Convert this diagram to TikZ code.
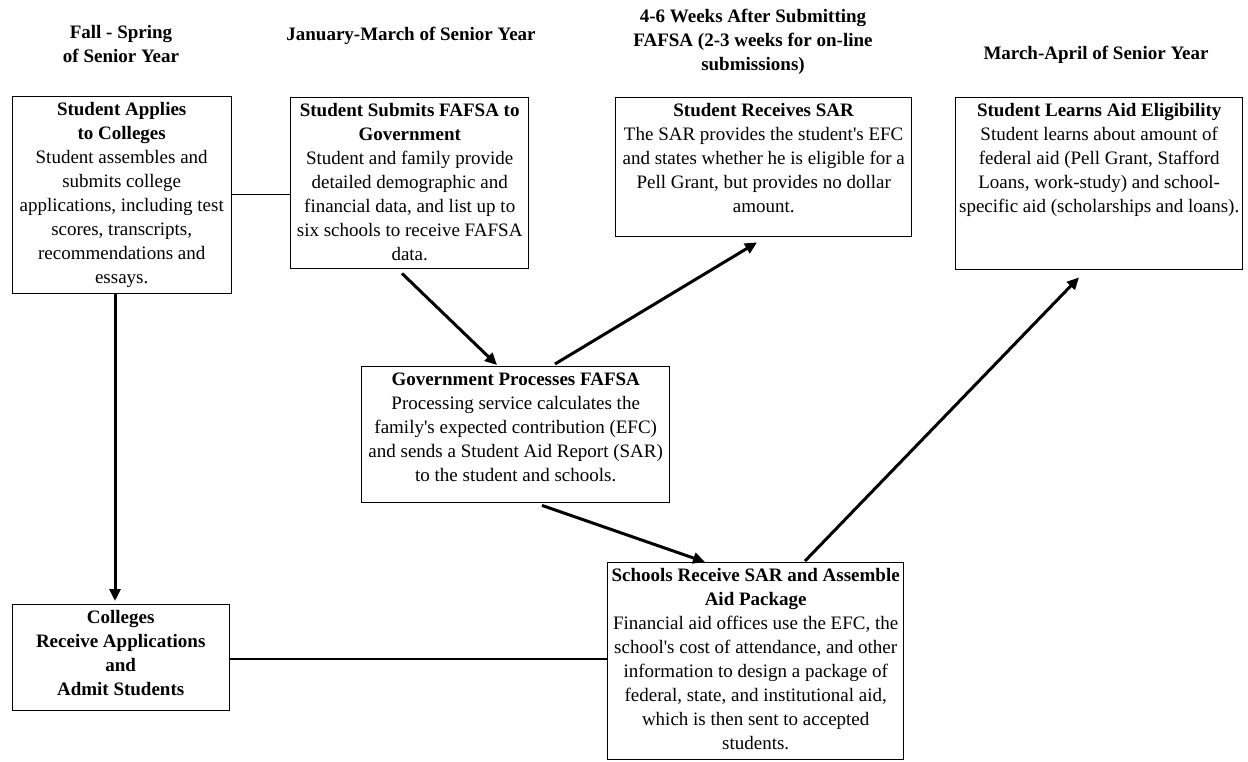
\documentclass[tikz,border=0pt]{standalone}
\usepackage{fontspec}
\setmainfont{Liberation Serif}
\usetikzlibrary{arrows.meta,calc}
\newcommand{\apos}{\textquotesingle}
\begin{document}
\begin{tikzpicture}[x=1pt,y=-1pt,
  every node/.style={font=\fontsize{19}{24}\selectfont},
  boxst/.style={draw, line width=1.4pt, anchor=north west, inner sep=0pt},
  txt/.style={anchor=north, align=center, inner sep=0pt, yshift=-2.7pt},
  hdr/.style={anchor=north, align=center, inner sep=0pt, font=\fontsize{19}{24}\selectfont\bfseries},
  arr/.style={line width=3pt, -{Triangle[length=12pt,width=11pt]}},
  plain/.style={line width=1.3pt}]
\useasboundingbox (0,0) rectangle (1248,761);

% headers
\node[hdr] (h1) at (121,21.7) {\strut Fall - Spring\\of Senior Year};
\node[hdr] (h2) at (411,23.7) {\strut January-March of Senior Year};
\node[hdr] (h3) at (753,5.7) {\strut 4-6 Weeks After Submitting\\FAFSA (2-3 weeks for on-line\\submissions)};
\node[hdr] (h4) at (1096,42.7) {\strut March-April of Senior Year};

% boxes
\node[boxst, minimum width=219pt, minimum height=197pt] (b1) at (11.5,96) {};
\node[boxst, minimum width=238pt, minimum height=171pt] (b2) at (290,97) {};
\node[boxst, minimum width=296pt, minimum height=139pt] (b3) at (615,97) {};
\node[boxst, minimum width=287pt, minimum height=172pt] (b4) at (955,97) {};
\node[boxst, minimum width=308pt, minimum height=136pt] (b5) at (361,366) {};
\node[boxst, minimum width=296pt, minimum height=197pt] (b6) at (607,562) {};
\node[boxst, minimum width=217pt, minimum height=106pt] (b7) at (11.5,604) {};

% texts
\node[txt] (t1) at (b1.north) {\strut\textbf{Student Applies}\\\textbf{to Colleges}\\Student assembles and\\submits college\\applications, including test\\scores, transcripts,\\recommendations and\\essays.};
\node[txt] (t2) at (b2.north) {\strut\textbf{Student Submits FAFSA to}\\\textbf{Government}\\Student and family provide\\detailed demographic and\\financial data, and list up to\\six schools to receive FAFSA\\data.};
\node[txt] (t3) at (b3.north) {\strut\textbf{Student Receives SAR}\\The SAR provides the student\apos s EFC\\and states whether he is eligible for a\\Pell Grant, but provides no dollar\\amount.};
\node[txt] (t4) at (b4.north) {\strut\textbf{Student Learns Aid Eligibility}\\Student learns about amount of\\federal aid (Pell Grant, Stafford\\Loans, work-study) and school-\\specific aid (scholarships and loans).};
\node[txt] (t5) at (b5.north) {\strut\textbf{Government Processes FAFSA}\\Processing service calculates the\\family\apos s expected contribution (EFC)\\and sends a Student Aid Report (SAR)\\to the student and schools.};
\node[txt] (t6) at (b6.north) {\strut\textbf{Schools Receive SAR and Assemble}\\\textbf{Aid Package}\\Financial aid offices use the EFC, the\\school\apos s cost of attendance, and other\\information to design a package of\\federal, state, and institutional aid,\\which is then sent to accepted\\students.};
\node[txt] (t7) at (b7.north) {\strut\textbf{Colleges}\\\textbf{Receive Applications}\\\textbf{and}\\\textbf{Admit Students}};

% connectors
\coordinate (ax) at (115,0);
\coordinate (l1y) at (0,194.5);
\coordinate (l2y) at (0,659);
\draw[plain] (b1.east |- l1y) -- (b2.west |- l1y);
\draw[plain] (b7.east |- l2y) -- (b6.west |- l2y);
\draw[arr] (b1.south -| ax) -- ($(b7.north -| ax)+(0,-3)$);
\draw[arr] ($(b2.south west)+(112,4)$) -- ($(b5.north west)+(136,-1)$);
\draw[arr] ($(b5.north west)+(194,-2)$) -- ($(b3.south west)+(142,5)$);
\draw[arr] ($(b5.south west)+(181,2)$) -- ($(b6.north west)+(98,0)$);
\draw[arr] ($(b6.north west)+(198,-1)$) -- ($(b4.south west)+(124,7)$);
\end{tikzpicture}
\end{document}
